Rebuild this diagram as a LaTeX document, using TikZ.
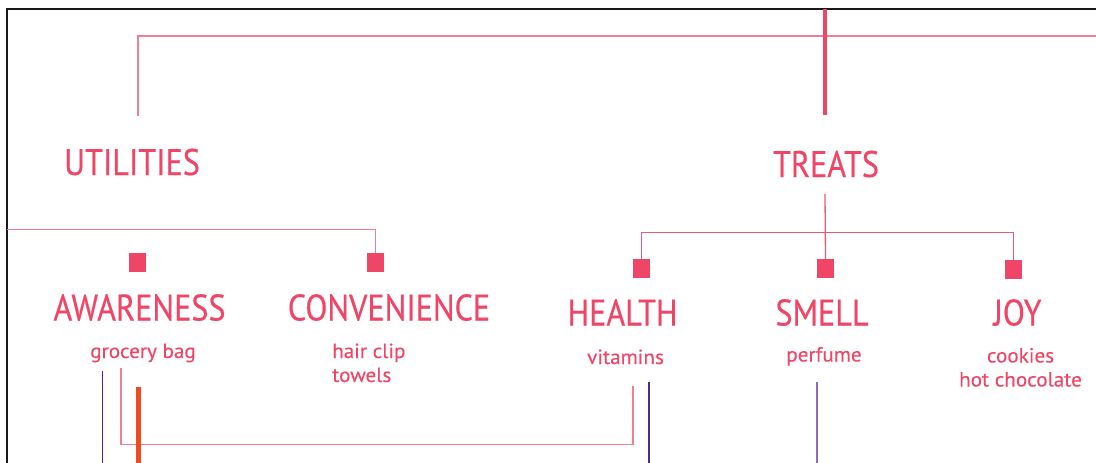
\documentclass[tikz,border=0pt]{standalone}
\usepackage{fontspec}
\setmainfont{PT Sans}
\newfontfamily\headfont[FakeStretch=0.87,FakeBold=0.4]{PT Sans}
\newfontfamily\itemfont[FakeStretch=1.03,FakeBold=0.2]{PT Sans}
\definecolor{rose}{HTML}{EF4566}
\definecolor{roseline}{HTML}{F0587A}
\definecolor{roselight}{HTML}{F27E95}
\definecolor{violetdark}{HTML}{4E2A8E}
\definecolor{violetlight}{HTML}{8D6CB8}
\definecolor{flame}{HTML}{F04A22}
\begin{document}
\begin{tikzpicture}[x=1pt,y=-1pt,
  head/.style={text=rose, font=\headfont\fontsize{37}{40}\selectfont, inner sep=0pt, anchor=base},
  item/.style={text=rose, font=\itemfont\fontsize{20.5}{24}\selectfont, inner sep=0pt, anchor=base, align=left},
  marker/.style={fill=rose, draw=none, minimum width=17pt, minimum height=19pt, inner sep=0pt},
  frame/.style={draw=black!90, line width=2pt},
  link/.style={draw=roselight, line width=1.3pt},
  branch/.style={draw=roseline, line width=1.3pt},
  trunk/.style={draw=rose, line width=3.5pt},
  vthin/.style={line width=1.2pt}]
\useasboundingbox (0,0) rectangle (1096,463);

% outer frame
\coordinate (frameBL) at (7,470);
\coordinate (frameTR) at (1100,9);
\draw[frame] (frameBL) |- (frameTR);

% top level
\coordinate (utilTop) at (138,115.5);
\coordinate (topRight) at (1100,36);
\draw[link] (utilTop) |- (topRight);
\coordinate (trunkTop) at (825,9);
\coordinate (trunkBot) at (825,115);
\draw[trunk] (trunkTop) -- (trunkBot);

% category headings
\node[head] (util) at (132,175) {UTILITIES};
\node[head] (treats) at (826,177) {TREATS};

% utilities branch
\node[marker] (mAware) at (137.5,262.5) {};
\node[marker] (mConv) at (375.5,262.5) {};
\coordinate (utilLeft) at (7,229.3);
\draw[link] (utilLeft) -| (mConv.north);

\node[head] (aware) at (139.5,320.5) {AWARENESS};
\node[head] (conv) at (389,320.5) {CONVENIENCE};
\node[item] (groc) at (143,358) {grocery bag};
% multi-line items are placed by the baseline of their last line
\node[item, anchor=base west] (hair) at (332,382) {hair clip\\towels};

% treats branch
\coordinate (treatsStem) at (825,194);
\node[marker] (mHealth) at (641.5,268.5) {};
\node[marker] (mSmell) at (825.5,268.5) {};
\node[marker] (mJoy) at (1013.5,269.5) {};
\draw[branch] (treatsStem) -- (mSmell.north);
\draw[branch] (mHealth.north) -- ++(0,-26.5) -| (mJoy.north);

\node[head] (health) at (622.5,325.5) {HEALTH};
\node[head] (smell) at (822,325.5) {SMELL};
\node[head] (joy) at (1017.5,325.5) {JOY};
\node[item] (vit) at (625.5,364) {vitamins};
\node[item] (perf) at (824,361.5) {perfume};
\node[item, align=center] (cook) at (1020.5,386.5) {cookies\\hot chocolate};

% lower links
\coordinate (grocLink) at (121,368);
\coordinate (vitLink) at (633,386);
\coordinate (linkCorner) at (633,444.5);
\draw[link] (grocLink) |- (linkCorner) -- (vitLink);

\coordinate (awareV1) at (102.5,371);
\coordinate (awareV2) at (102.5,470);
\draw[vthin, violetdark] (awareV1) -- (awareV2);
\coordinate (vitV1) at (649,382);
\coordinate (vitV2) at (649,470);
\draw[vthin, violetdark] (vitV1) -- (vitV2);
\coordinate (perfV1) at (817,382);
\coordinate (perfV2) at (817,470);
\draw[vthin, violetlight] (perfV1) -- (perfV2);
\coordinate (flameTop) at (138.5,387);
\coordinate (flameBot) at (138.5,470);
\draw[flame, line width=5pt] (flameTop) -- (flameBot);
\end{tikzpicture}
\end{document}
